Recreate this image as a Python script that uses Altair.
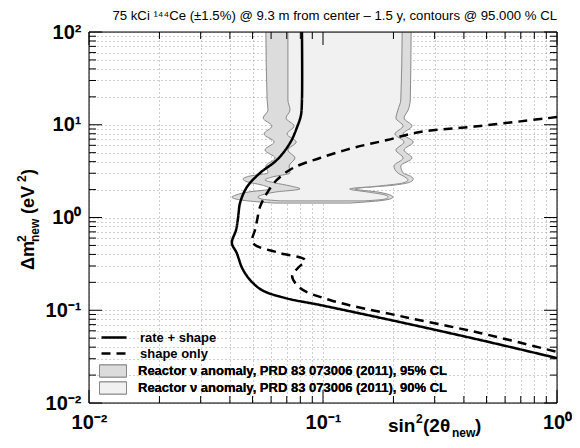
import altair as alt
import pandas as pd

TITLE = "75  kCi \u00b9\u2074\u2074Ce (\u00b11.5%) @ 9.3 m from center \u2013 1.5 y, contours @ 95.000 % CL"
SERIES = ["rate + shape", "shape only"]
CL_LABELS = ["Reactor \u03bd anomaly, PRD 83 073006 (2011), 95% CL",
             "Reactor \u03bd anomaly, PRD 83 073006 (2011), 90% CL"]

# rate + shape sensitivity curve (sin^2 2theta, dm^2)
solid_x = [0.0813, 0.0813, 0.0805, 0.0781, 0.0723, 0.0635, 0.0538, 0.0473, 0.0442, 0.0434, 0.0425,
           0.0408, 0.0428, 0.0451, 0.0488, 0.0548, 0.0689, 0.0970, 0.213, 0.469, 1.0]
solid_y = [100, 18.5, 12.7, 9.94, 6.36, 4.17, 3.02, 2.13, 1.43, 1.01, 0.733,
           0.531, 0.414, 0.286, 0.212, 0.165, 0.1355, 0.114, 0.0746, 0.0478, 0.0305]
# shape only curve
dashed_x = [1.0, 0.469, 0.260, 0.188, 0.134, 0.0970, 0.0745, 0.0635, 0.0577, 0.0538, 0.0523, 0.0512,
            0.0498, 0.0512, 0.0655, 0.0838, 0.0781, 0.0738, 0.0798, 0.107, 0.213, 0.469, 1.0]
dashed_y = [12.1, 9.70, 8.35, 6.85, 5.61, 4.38, 3.42, 2.54, 1.84, 1.30, 0.940, 0.733,
            0.572, 0.506, 0.414, 0.348, 0.286, 0.234, 0.174, 0.129, 0.0867, 0.0569, 0.0355]

# reactor anomaly contours: for each dm^2 row, left and right sin^2 2theta edges
c95_dm2 = [100, 18.5, 14.4, 11.8, 9.70, 7.94, 6.52, 5.34, 4.38, 3.59, 3.02, 2.80, 2.60, 2.41, 2.24,
           2.03, 1.88, 1.75, 1.66, 1.58, 1.51, 1.43]
c95_lo = [0.0570, 0.0577, 0.0582, 0.0555, 0.0605, 0.0560, 0.0618, 0.0565, 0.0624, 0.0570, 0.0582,
          0.0488, 0.0455, 0.0478, 0.0548, 0.0594, 0.0478, 0.0425, 0.0408, 0.0425, 0.0478, 0.0624]
c95_hi = [0.238, 0.236, 0.231, 0.222, 0.240, 0.220, 0.243, 0.222, 0.240, 0.215, 0.220,
          0.236, 0.243, 0.236, 0.203, 0.137, 0.172, 0.193, 0.199, 0.193, 0.172, 0.130]
c90_dm2 = [100, 18.5, 14.4, 11.8, 9.70, 7.94, 6.52, 5.34, 4.38, 3.59, 3.02, 2.73, 2.54, 2.36, 2.19,
           2.03, 1.88, 1.75, 1.66, 1.58, 1.51]
c90_lo = [0.0708, 0.0708, 0.0723, 0.0695, 0.0752, 0.0702, 0.0768, 0.0708, 0.0759, 0.0716, 0.0723,
          0.0605, 0.0565, 0.0624, 0.0723, 0.0798, 0.0624, 0.0548, 0.0527, 0.0548, 0.0655]
c90_hi = [0.218, 0.215, 0.209, 0.205, 0.220, 0.203, 0.222, 0.205, 0.220, 0.201, 0.209,
          0.224, 0.231, 0.220, 0.175, 0.130, 0.156, 0.184, 0.190, 0.184, 0.151]

X_TICKS = [0.01, 0.02, 0.03, 0.04, 0.05, 0.06, 0.07, 0.08, 0.09,
           0.1, 0.2, 0.3, 0.4, 0.5, 0.6, 0.7, 0.8, 0.9, 1.0]
X_MAJOR = [0.01, 0.1, 1.0]
Y_TICKS = [0.01, 0.02, 0.03, 0.04, 0.05, 0.06, 0.07, 0.08, 0.09,
           0.1, 0.2, 0.3, 0.4, 0.5, 0.6, 0.7, 0.8, 0.9,
           1, 2, 3, 4, 5, 6, 7, 8, 9,
           10, 20, 30, 40, 50, 60, 70, 80, 90, 100]
Y_MAJOR = [0.01, 0.1, 1, 10, 100]

W, H = 468, 371
FONT = "Liberation Sans"

xsc = alt.Scale(type="log", domain=[0.01, 1], nice=False)
ysc = alt.Scale(type="log", domain=[0.01, 100], nice=False)

x_expr = ("datum.value == 0.01 ? '10\u207b\u00b2' : datum.value == 0.1 ? '10\u207b\u00b9' : "
          "datum.value == 1 ? '10\u2070' : ''")
y_expr = ("datum.value == 0.01 ? '10\u207b\u00b2' : datum.value == 0.1 ? '10\u207b\u00b9' : "
          "datum.value == 1 ? '10\u2070' : datum.value == 10 ? '10\u00b9' : "
          "datum.value == 100 ? '10\u00b2' : ''")

common_axis = dict(grid=True, gridDash=[1, 3], gridColor="#a0a0a0", gridWidth=1,
                   ticks=False, domain=False, labelFont=FONT, labelFontSize=20,
                   labelFontWeight="bold", labelColor="black", labelFlush=False,
                   labelOverlap=False, title=None)
xaxis = alt.Axis(values=X_TICKS, labelExpr=x_expr, labelPadding=9, **common_axis)
yaxis = alt.Axis(values=Y_TICKS, labelExpr=y_expr, labelPadding=8, **common_axis)

# ---- contours ----
area_df = pd.DataFrame({
    "dm2": c95_dm2 + c90_dm2,
    "lo": c95_lo + c90_lo,
    "hi": c95_hi + c90_hi,
    "cl": [CL_LABELS[0]] * len(c95_dm2) + [CL_LABELS[1]] * len(c90_dm2),
})
fill_scale = alt.Scale(domain=CL_LABELS, range=["#dcdcdc", "#f1f1f1"])
fill_legend = alt.Legend(title=None, orient="none", legendX=10, legendY=331,
                         symbolType="M-1,-0.45H1V0.45H-1Z", symbolSize=729,
                         symbolStrokeColor="#888888", symbolStrokeWidth=1, symbolOpacity=1,
                         labelFont=FONT, labelFontSize=13, labelFontWeight="bold",
                         labelColor="black", labelOffset=11, clipHeight=16, rowPadding=1,
                         padding=0, labelLimit=400)


def contour(label):
    return alt.Chart(area_df).transform_filter(alt.datum.cl == label).mark_area(
        orient="horizontal", stroke="#8a8a8a", strokeWidth=1, clip=True, opacity=1,
        interpolate="monotone"
    ).encode(
        y=alt.Y("dm2:Q", scale=ysc, axis=yaxis),
        x=alt.X("lo:Q", scale=xsc, axis=xaxis),
        x2="hi:Q",
        fill=alt.Fill("cl:N", scale=fill_scale, legend=fill_legend),
    )


# ---- sensitivity lines ----
lines_df = pd.DataFrame({
    "x": solid_x + dashed_x,
    "y": solid_y + dashed_y,
    "series": [SERIES[0]] * len(solid_x) + [SERIES[1]] * len(dashed_x),
    "idx": list(range(len(solid_x))) + list(range(len(dashed_x))),
})
dash_legend = alt.Legend(title=None, orient="none", legendX=11, legendY=298,
                         symbolType="stroke", symbolSize=625, symbolStrokeWidth=2.5,
                         symbolStrokeColor="black", labelFont=FONT, labelFontSize=13,
                         labelFontWeight="bold", labelColor="black", labelOffset=12,
                         clipHeight=15, rowPadding=1, padding=0)
lines = alt.Chart(lines_df).mark_line(color="black", strokeWidth=2.5, clip=True,
                                      interpolate="catmull-rom").encode(
    x=alt.X("x:Q", scale=xsc, axis=xaxis),
    y=alt.Y("y:Q", scale=ysc, axis=yaxis),
    strokeDash=alt.StrokeDash("series:N", scale=alt.Scale(domain=SERIES, range=[[1, 0], [9, 6]]),
                              legend=dash_legend),
    order="idx:Q",
)


# ---- inward ticks (ROOT style) ----
def xticks(vals, length, top):
    enc = dict(x=alt.X("v:Q", scale=xsc, axis=xaxis))
    if top:
        enc.update(y=alt.value(0), y2=alt.value(length))
    else:
        enc.update(y=alt.value(H), y2=alt.value(H - length))
    return alt.Chart(pd.DataFrame({"v": vals})).mark_rule(color="black", strokeWidth=1).encode(**enc)


def yticks(vals, length, right):
    enc = dict(y=alt.Y("v:Q", scale=ysc, axis=yaxis))
    if right:
        enc.update(x=alt.value(W), x2=alt.value(W - length))
    else:
        enc.update(x=alt.value(0), x2=alt.value(length))
    return alt.Chart(pd.DataFrame({"v": vals})).mark_rule(color="black", strokeWidth=1).encode(**enc)


x_minor = [v for v in X_TICKS if v not in X_MAJOR]
y_minor = [v for v in Y_TICKS if v not in Y_MAJOR]
tick_layers = [
    xticks(x_minor, 7, False), xticks(X_MAJOR, 13, False),
    xticks(x_minor, 7, True), xticks(X_MAJOR, 13, True),
    yticks(y_minor, 7, False), yticks(Y_MAJOR, 13, False),
    yticks(y_minor, 7, True), yticks(Y_MAJOR, 13, True),
]

frame = alt.Chart(pd.DataFrame({"a": [0]})).mark_rect(
    fill=None, stroke="black", strokeWidth=1).encode(
    x=alt.value(0), x2=alt.value(W), y=alt.value(0), y2=alt.value(H))


# ---- texts built from pieces (super/subscripts) ----
def piece(text, x, y, size, angle=0, weight="bold", align="left"):
    return alt.Chart(pd.DataFrame({"a": [0]})).mark_text(
        text=text, font=FONT, fontSize=size, fontWeight=weight, color="black",
        align=align, baseline="alphabetic", angle=angle).encode(
        x=alt.value(x), y=alt.value(y))


ytitle = [
    piece("\u0394m", -55, 238, 18, 270),
    piece("2", -63, 210, 12, 270),
    piece("new", -50, 210, 12, 270),
    piece("(eV", -55, 182, 18, 270),
    piece("2", -63, 150, 12, 270),
    piece(")", -55, 143, 18, 270),
]
xtitle = [
    piece("sin", 299, 400, 19),
    piece("2", 327, 391, 12),
    piece("(2\u03b8", 334, 400, 19),
    piece("new", 363, 405, 12),
    piece(")", 386, 400, 19),
]
top_title = piece(TITLE, W, -12, 13.2, weight="normal", align="right")

chart = alt.layer(
    contour(CL_LABELS[0]), contour(CL_LABELS[1]), lines, *tick_layers, frame,
    *ytitle, *xtitle, top_title
).resolve_scale(fill="independent", strokeDash="independent").properties(
    width=W, height=H,
    autosize=alt.AutoSizeParams(type="none"),
    padding={"left": 81, "top": 24, "right": 15, "bottom": 37},
).configure_view(stroke="black", strokeWidth=1).configure(background="white")

chart.save("out.html", embed_options={"renderer": "svg", "actions": False})
